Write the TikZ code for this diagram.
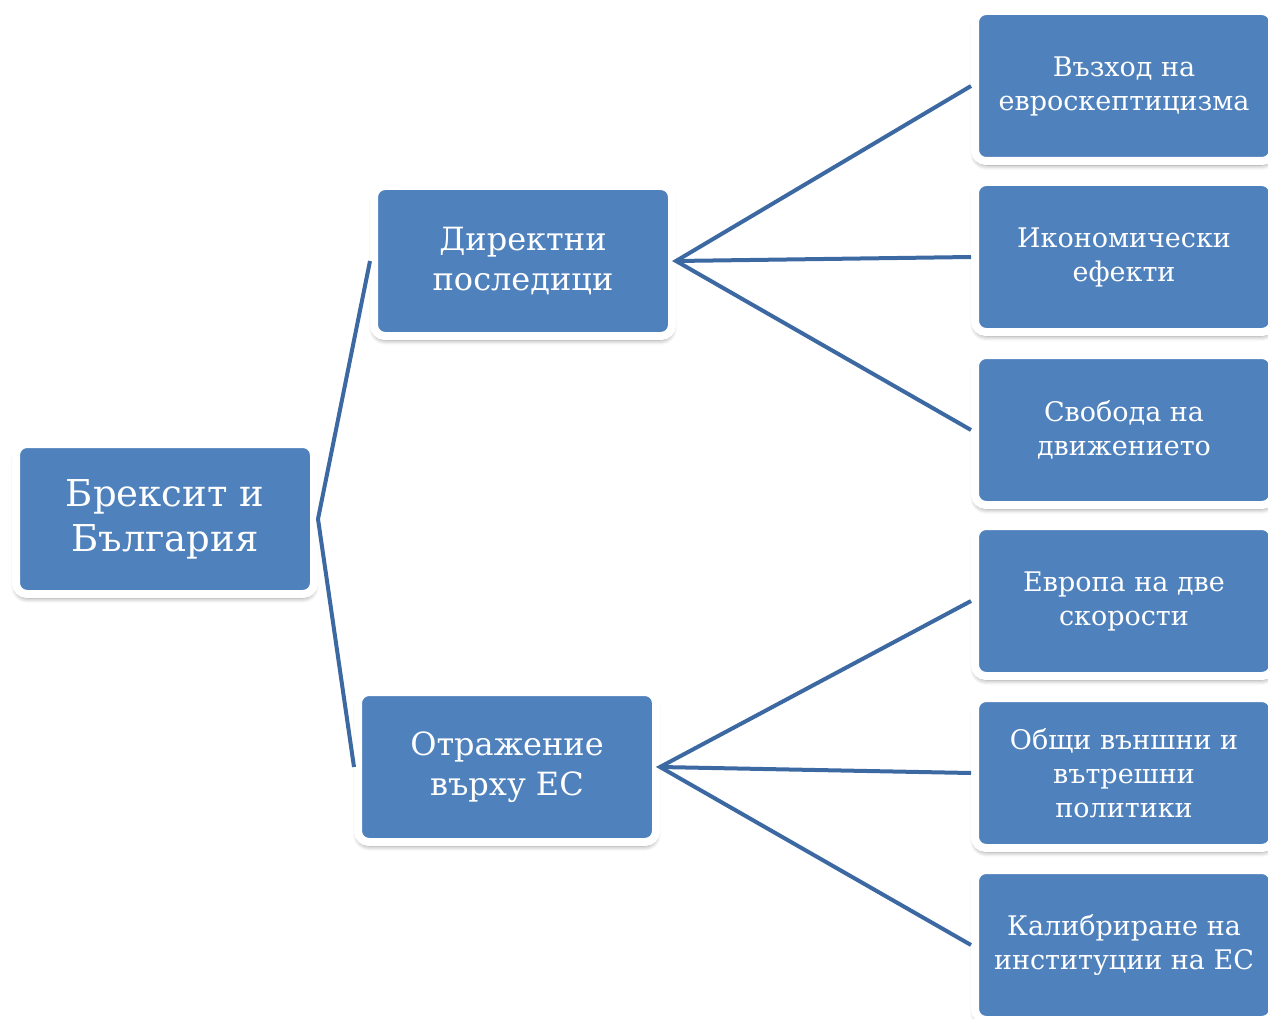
\documentclass[tikz,border=0pt]{standalone}
\usepackage{fontspec}
\setmainfont{DejaVu Serif}
\usetikzlibrary{shadows.blur}
\definecolor{boxblue}{HTML}{4F81BD}
\definecolor{linkblue}{HTML}{3D69A3}

\begin{document}
\begin{tikzpicture}[x=1pt,y=-1pt,
  box/.style={rectangle, rounded corners=11pt, fill=boxblue, draw=white, line width=8pt,
    minimum width=298pt, minimum height=150pt, align=center, text=white,
    blur shadow={shadow xshift=0pt, shadow yshift=-4pt, shadow blur radius=5pt,
      shadow blur steps=6, shadow opacity=45}},
  big/.style={box, font=\fontsize{37}{45}\selectfont},
  mid/.style={box, font=\fontsize{32}{40}\selectfont},
  small/.style={box, font=\fontsize{27}{34}\selectfont},
  link/.style={draw=linkblue, line width=4pt}]
 \useasboundingbox (0,0) rectangle (1268,1019);
 \node (root) [big] at (165,519) {Брексит и\\България};
 \node (direct) [mid] at (523,261) {Директни\\последици};
 \node (eu) [mid] at (507,767) {Отражение\\върху ЕС};
 \node (1) [small] at (1124,86) {Възход на\\евроскептицизма};
 \node (2) [small] at (1124,257) {Икономически\\ефекти};
 \node (3) [small] at (1124,430) {Свобода на\\движението};
 \node (4) [small] at (1124,601) {Европа на две\\скорости};
 \node (5) [small] at (1124,773) {Общи външни и\\вътрешни\\политики};
 \node (6) [small] at (1124,945) {Калибриране на\\институции на ЕС};
 \draw[link] (direct.west) -- (root.east) -- (eu.west);
 \draw[link] (1.west) -- (direct.east) -- (3.west);
 \draw[link] (direct.east) -- (2.west);
 \draw[link] (4.west) -- (eu.east) -- (6.west);
 \draw[link] (eu.east) -- (5.west);
\end{tikzpicture}
\end{document}
